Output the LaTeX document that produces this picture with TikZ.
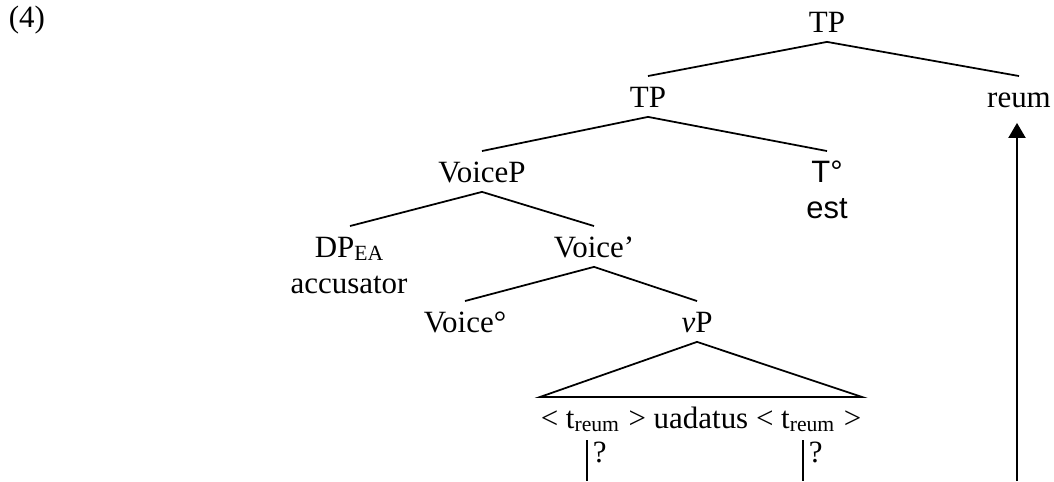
\documentclass[tikz,border=0pt]{standalone}
\usepackage{fontspec}
\setmainfont{Liberation Serif}
\newfontfamily\arialfont{Liberation Sans}
\usepackage{tikz}
\usetikzlibrary{arrows.meta}
\tikzset{treenode/.style={anchor=base, inner xsep=0pt, inner ysep=2.56pt, text height=6pt, text depth=0pt}}

\begin{document}
\begin{tikzpicture}[x=0.01cm, y=-0.01cm, font=\fontsize{8.8pt}{10.3pt}\selectfont, line width=0.5pt]
\useasboundingbox (0,0) rectangle (1054,481);

\node[anchor=base west, inner sep=0pt] (exnum) at (8,27) {(4)};

\begin{scope}[every node/.style={treenode}]
    \node (TPtop) at (827,32) {TP};
    \node (TP) at (648,107) {TP};
    \node (reum) at (1019,107) {reum};
    \node (VoiceP) at (482,182) {VoiceP};
    \node (T) at (827,182) {\arialfont T°};
    \node (est) at (827,218) {\arialfont est};
    \node (DP) at (350,257) {DP\textsubscript{EA}};
    \node (acc) at (349,293) {accusator};
    \node (Voicebar) at (594,257) {Voice'};
    \node (Voicehead) at (465,332) {Voice°};
    \node (vP) at (697,332) {\textit{v}P};
    \node (trace) at (701,428) {< t\textsubscript{reum} > uadatus < t\textsubscript{reum} >};
\end{scope}

\draw (TP.north)--(TPtop.south)--(reum.north);
\draw (VoiceP.north)--(TP.south)--(T.north);
\draw (DP.north)--(VoiceP.south)--(Voicebar.north);
\draw (Voicehead.north)--(Voicebar.south)--(vP.north);
\draw (vP.south)--(trace.north west)--(trace.north east)--cycle;

\coordinate (floor) at (0,481);
\coordinate (gapA) at (587,440);
\coordinate (gapB) at (803,440);
\coordinate (mvstart) at (1017,481);

\draw[line width=0.6pt] (gapA)--(gapA |- floor);
\draw[line width=0.6pt] (gapB)--(gapB |- floor);
\node[anchor=base west, inner sep=0pt] (qA) at (592,462) {?};
\node[anchor=base west, inner sep=0pt] (qB) at (808,462) {?};

\draw[line width=0.75pt, -{Triangle[width=4.8pt,length=4.3pt]}, shorten >=1.7pt] (mvstart)--(mvstart |- reum.south);

\end{tikzpicture}
\end{document}
